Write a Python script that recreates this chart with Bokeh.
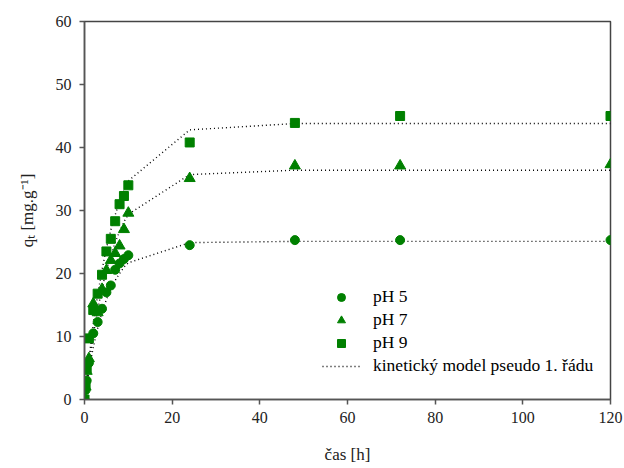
from bokeh.plotting import figure
from bokeh.models import Legend, LegendItem, ColumnDataSource, LinearAxis, FixedTicker
from bokeh.embed import file_html
from bokeh.resources import INLINE

# measured times [h]
t = [0, 0.25, 0.5, 1, 2, 3, 4, 5, 6, 7, 8, 9, 10, 24, 48, 72, 120]

# measured q_t [mg/g]
q_ph5 = [0, 1.5, 3.0, 5.8, 10.5, 12.3, 14.4, 17.0, 18.1, 20.6, 21.6, 22.3, 22.9, 24.5, 25.3, 25.3, 25.3]
q_ph7 = [0, 2.0, 4.5, 6.5, 15.2, 13.8, 17.5, 20.5, 22.1, 23.2, 24.4, 27.0, 29.6, 35.1, 37.1, 37.1, 37.3]
q_ph9 = [0, 2.5, 5.0, 9.7, 14.2, 16.8, 19.8, 23.5, 25.5, 28.3, 31.0, 32.3, 34.0, 40.8, 43.9, 45.0, 45.0]

# pseudo first order model values at the same times
m_ph5 = [0, 1.2, 2.4, 4.5, 8.3, 11.3, 13.8, 15.9, 17.5, 18.9, 20.0, 21.0, 21.7, 24.9, 25.1, 25.1, 25.1]
m_ph7 = [0, 1.5, 2.9, 5.5, 10.2, 14.2, 17.6, 20.5, 22.9, 24.9, 26.7, 28.2, 29.4, 35.7, 36.4, 36.4, 36.4]
m_ph9 = [0, 1.7, 3.3, 6.4, 11.9, 16.6, 20.6, 24.0, 26.9, 29.3, 31.4, 33.2, 34.7, 42.8, 43.8, 43.8, 43.8]

x_ticks = [0, 20, 40, 60, 80, 100, 120]
y_ticks = [0, 10, 20, 30, 40, 50, 60]
x_title = "čas [h]"
y_title = "qₜ [mg.g⁻¹]"

FONT = "Liberation Serif"
GREEN = "#008000"
TXT = "#222222"

p = figure(width=624, height=468, x_range=(0, 120), y_range=(0, 60),
           x_axis_location=None, y_axis_location=None,
           output_backend="svg", toolbar_location=None,
           min_border_left=84, min_border_right=14, min_border_top=21, min_border_bottom=69)
p.grid.visible = False
p.outline_line_color = "#444444"
p.outline_line_width = 1.5
p.background_fill_color = "white"
p.border_fill_color = "white"

src = ColumnDataSource(dict(t=t, q5=q_ph5, q7=q_ph7, q9=q_ph9, m5=m_ph5, m7=m_ph7, m9=m_ph9))

l5 = p.line("t", "m5", source=src, line_color="black", line_dash="1 3", line_width=1.4)
l7 = p.line("t", "m7", source=src, line_color="black", line_dash="1 3", line_width=1.4)
l9 = p.line("t", "m9", source=src, line_color="black", line_dash="1 3", line_width=1.4)

r5 = p.scatter("t", "q5", source=src, marker="circle", size=9, fill_color=GREEN, line_color=GREEN)
r7 = p.scatter("t", "q7", source=src, marker="triangle", size=11, fill_color=GREEN, line_color=GREEN)
r9 = p.scatter("t", "q9", source=src, marker="square", size=9, fill_color=GREEN, line_color=GREEN)

legend = Legend(items=[
    LegendItem(label="pH 5", renderers=[r5]),
    LegendItem(label="pH 7", renderers=[r7]),
    LegendItem(label="pH 9", renderers=[r9]),
    LegendItem(label="kinetický model pseudo 1. řádu", renderers=[l5]),
], location=(238, 23), orientation="vertical")
legend.border_line_alpha = 0
legend.background_fill_alpha = 0
legend.padding = 0
legend.margin = 0
legend.spacing = 2
legend.glyph_width = 38
legend.glyph_height = 20
legend.label_height = 20
legend.label_standoff = 13
legend.label_text_font = FONT
legend.label_text_font_size = "17.5px"
legend.label_text_color = "black"
p.add_layout(legend)

def make_axis(ticks, label, tick_standoff, label_standoff):
    return LinearAxis(ticker=FixedTicker(ticks=ticks), axis_label=label,
                      axis_line_color="#555555", axis_line_width=1.5,
                      major_tick_line_color="#555555", major_tick_line_width=1.5,
                      major_tick_out=5, major_tick_in=0, minor_tick_line_color=None,
                      major_label_text_font=FONT, major_label_text_font_size="16px",
                      major_label_text_color=TXT, major_label_standoff=tick_standoff,
                      axis_label_text_font=FONT, axis_label_text_font_size="17px",
                      axis_label_text_font_style="normal", axis_label_text_color=TXT,
                      axis_label_standoff=label_standoff)

p.add_layout(make_axis(x_ticks, x_title, 7, 19), "below")
p.add_layout(make_axis(y_ticks, y_title, 8, 16), "left")

open("out.html", "w").write(file_html(p, INLINE))
